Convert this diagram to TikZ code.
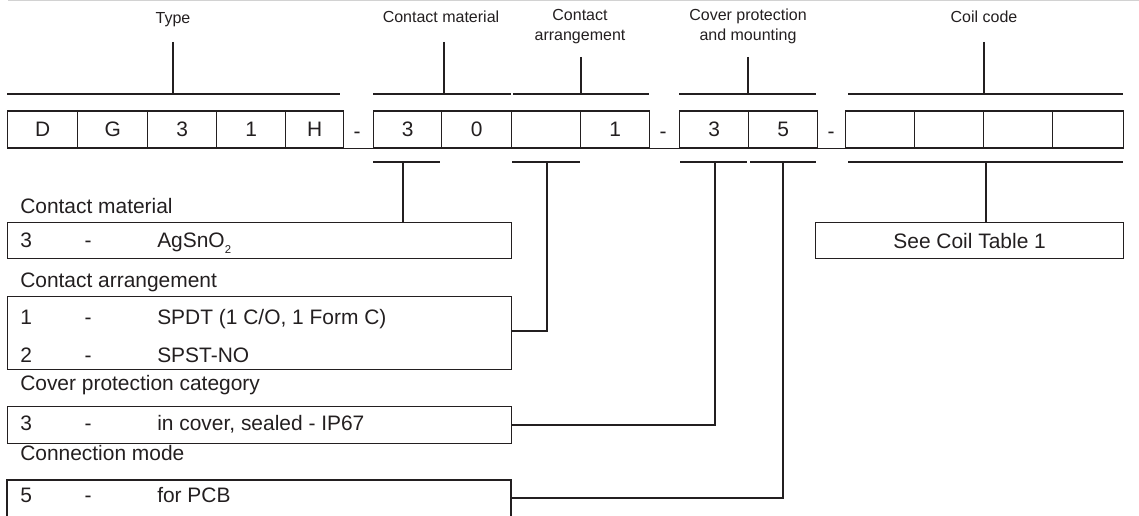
\documentclass[tikz,border=0pt]{standalone}
\usepackage{fontspec}
\setmainfont{Liberation Sans}
\definecolor{ink}{HTML}{231F20}
\begin{document}
\begin{tikzpicture}[x=0.75pt,y=-0.75pt,
  ln/.style={draw=ink,line width=1pt},
  cell/.style={draw=ink,line width=1pt,minimum height=27.75pt,inner sep=0pt,anchor=west,text=ink,font=\fontsize{15.7}{18}\selectfont},
  toplab/.style={text=ink,font=\fontsize{12}{14.5}\selectfont,align=center,inner sep=0pt},
  biglab/.style={text=ink,font=\fontsize{15.7}{18}\selectfont,inner sep=0pt,anchor=west,text height=11.3pt,text depth=0pt},
  dashlab/.style={text=ink,font=\fontsize{15.7}{18}\selectfont,inner sep=0pt,text height=11.3pt,text depth=0pt},
  optbox/.style={draw=ink,line width=1pt,inner sep=0pt}]
\useasboundingbox (0,0) rectangle (1139,516);
\draw[gray!35,line width=0.75pt] (8,0.5) -- (1139,0.5);
% code cells
\node[cell,minimum width=52.5pt] (cD) at (7,129.5) {D};
\node[cell,minimum width=52.5pt] (cG) at (77,129.5) {G};
\node[cell,minimum width=51.75pt] (c3) at (147,129.5) {3};
\node[cell,minimum width=51.75pt] (c1) at (216,129.5) {1};
\node[cell,minimum width=43.5pt] (cH) at (285,129.5) {H};
\node[dashlab] (d1) at (357,131) {-};
\node[cell,minimum width=51pt] (m3) at (373,129.5) {3};
\node[cell,minimum width=52.5pt] (m0) at (441,129.5) {0};
\node[cell,minimum width=51.75pt] (a0) at (511,129.5) {};
\node[cell,minimum width=51.75pt] (a1) at (580,129.5) {1};
\node[dashlab] (d2) at (663,131) {-};
\node[cell,minimum width=51.75pt] (p3) at (679,129.5) {3};
\node[cell,minimum width=51.75pt] (p5) at (748,129.5) {5};
\node[dashlab] (d3) at (831,131) {-};
\node[cell,minimum width=51.75pt] (k1) at (845,129.5) {};
\node[cell,minimum width=51.75pt] (k2) at (914,129.5) {};
\node[cell,minimum width=51.75pt] (k3) at (983,129.5) {};
\node[cell,minimum width=53.25pt] (k4) at (1052,129.5) {};
\draw[ln] (cD.south west) -- (k4.south east);
% top labels
\node[toplab] (lT) at (173,20) {Type};
\node[toplab] (lCM) at (441,17) {Contact material};
\node[toplab] (lCA) at (580,26.5) {Contact\\arrangement};
\node[toplab] (lCP) at (748,26.5) {Cover protection\\and mounting};
\node[toplab] (lCC) at (984,17) {Coil code};
% top brackets
\coordinate (tT1) at (7,94); \coordinate (tT2) at (340,94);
\coordinate (tTv) at (173,42); \coordinate (tTb) at (173,94);
\draw[ln] (tT1) -- (tT2); \draw[ln] (tTv) -- (tTb);
\coordinate (tM1) at (373,94); \coordinate (tM2) at (511,94);
\coordinate (tMv) at (444,42); \coordinate (tMb) at (444,94);
\draw[ln] (tM1) -- (tM2); \draw[ln] (tMv) -- (tMb);
\coordinate (tA1) at (513,94); \coordinate (tA2) at (649,94);
\coordinate (tAv) at (581,57); \coordinate (tAb) at (581,94);
\draw[ln] (tA1) -- (tA2); \draw[ln] (tAv) -- (tAb);
\coordinate (tP1) at (679,94); \coordinate (tP2) at (816,94);
\coordinate (tPv) at (748,57); \coordinate (tPb) at (748,94);
\draw[ln] (tP1) -- (tP2); \draw[ln] (tPv) -- (tPb);
\coordinate (tK1) at (848,94); \coordinate (tK2) at (1123,94);
\coordinate (tKv) at (984,42); \coordinate (tKb) at (984,94);
\draw[ln] (tK1) -- (tK2); \draw[ln] (tKv) -- (tKb);
% option boxes
\node[optbox,minimum width=378pt,minimum height=27pt,anchor=north west] (b1) at (7,222) {};
\node[optbox,minimum width=378pt,minimum height=54.75pt,anchor=north west] (b2) at (7,296) {};
\node[optbox,minimum width=378pt,minimum height=27.75pt,anchor=north west] (b3) at (7,406) {};
\coordinate (b4a) at (7,520); \coordinate (b4b) at (7,480);
\coordinate (b4c) at (511,480); \coordinate (b4d) at (511,520);
\draw[ln] (b4a) -- (b4b) -- (b4c) -- (b4d);
\node[optbox,minimum width=231pt,minimum height=27pt,anchor=north west,text=ink,font=\fontsize{15.7}{18}\selectfont] (bk) at (815,222) {See Coil Table 1};
% left labels
\node[biglab] (h1) at (20,206) {Contact material};
\node[biglab] (h2) at (20,280) {Contact arrangement};
\node[biglab] (h3) at (20,383) {Cover protection category};
\node[biglab] (h4) at (20,453) {Connection mode};
\node[biglab] (r1a) at (20,240) {3};
\node[dashlab] (r1b) at (88,240) {-};
\node[biglab] (r1c) at (157,240) {AgSnO\raisebox{-4.5pt}{\fontsize{8.5}{9}\selectfont 2}};
\node[biglab] (r2a) at (20,317) {1};
\node[dashlab] (r2b) at (88,317) {-};
\node[biglab] (r2c) at (157,317) {SPDT (1 C/O, 1 Form C)};
\node[biglab] (r3a) at (20,355) {2};
\node[dashlab] (r3b) at (88,355) {-};
\node[biglab] (r3c) at (157,355) {SPST-NO};
\node[biglab] (r4a) at (20,423) {3};
\node[dashlab] (r4b) at (88,423) {-};
\node[biglab] (r4c) at (157,423) {in cover, sealed - IP67};
\node[biglab] (r5a) at (20,495) {5};
\node[dashlab] (r5b) at (88,495) {-};
\node[biglab] (r5c) at (157,495) {for PCB};
% bottom brackets and connectors
\coordinate (sM1) at (373,162); \coordinate (sM2) at (440,162); \coordinate (sMv) at (403,162);
\draw[ln] (sM1) -- (sM2); \draw[ln] (sMv) -- (sMv |- b1.north);
\coordinate (sA1) at (512,162); \coordinate (sA2) at (580,162); \coordinate (sAv) at (547,162);
\coordinate (sAe) at (547,331); \coordinate (sAj) at (511,331);
\draw[ln] (sA1) -- (sA2); \draw[ln] (sAv) -- (sAe) -- (sAj);
\coordinate (sP1) at (680,162); \coordinate (sP2) at (747,162); \coordinate (sPv) at (715,162);
\draw[ln] (sP1) -- (sP2); \draw[ln] (sPv) |- (b3.east);
\coordinate (sQ1) at (750,162); \coordinate (sQ2) at (816,162); \coordinate (sQv) at (783,162);
\coordinate (sQe) at (783,498); \coordinate (sQj) at (511,498);
\draw[ln] (sQ1) -- (sQ2); \draw[ln] (sQv) -- (sQe) -- (sQj);
\coordinate (sK1) at (848,162); \coordinate (sK2) at (1123,162); \coordinate (sKv) at (986,162);
\draw[ln] (sK1) -- (sK2); \draw[ln] (sKv) -- (sKv |- bk.north);
\end{tikzpicture}
\end{document}
